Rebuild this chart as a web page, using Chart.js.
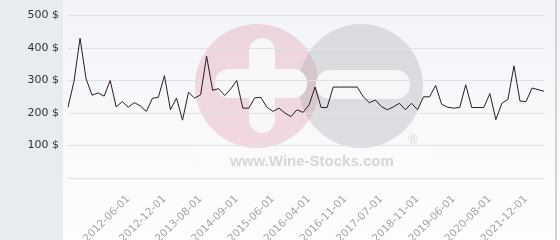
<!DOCTYPE html>
<html>
<head>
<meta charset="utf-8">
<script src="https://cdn.jsdelivr.net/npm/chart.js@4"></script>
<style>
  html, body { margin: 0; padding: 0; background: #fff; }
  #wrap { width: 560px; height: 240px; }
</style>
</head>
<body>
<div id="wrap"><canvas id="chart" width="560" height="240"></canvas></div>
<script>
// only every 6th date is printed on the axis in the reference, the rest are left blank
const dates = [
  "", "", "", "", "", "", "", "", "", "",
  "2012-06-01", "", "", "", "", "", "2012-12-01", "", "", "",
  "", "", "2013-08-01", "", "", "", "", "", "2014-09-01", "",
  "", "", "", "", "2015-06-01", "", "", "", "", "",
  "2016-04-01", "", "", "", "", "", "2016-11-01", "", "", "",
  "", "", "2017-07-01", "", "", "", "", "", "2018-11-01", "",
  "", "", "", "", "2019-06-01", "", "", "", "", "",
  "2020-08-01", "", "", "", "", "", "2021-12-01", "", "", ""
];

const prices = [
  218, 298, 430, 305, 255, 262, 252, 300, 219, 235,
  218, 232, 222, 205, 245, 249, 315, 210, 246, 178,
  264, 246, 256, 375, 270, 275, 254, 274, 300, 215,
  215, 247, 248, 218, 205, 215, 200, 189, 210, 202,
  225, 280, 217, 217, 280, 280, 280, 280, 280, 250,
  232, 240, 220, 210, 219, 230, 210, 230, 210, 250,
  250, 285, 227, 218, 215, 217, 287, 217, 217, 217,
  260, 180, 230, 242, 345, 237, 235, 277, 272, 267
];

const yTicks = [0, 100, 200, 300, 400, 500];

const COLORS = {
  panel: "#e8ecef",
  plotTop: "#f3f4f8",
  plotBottom: "#fdfdfe",
  grid: "#dfe1e6",
  line: "#2b1b24",
  yText: "#333333",
  xText: "#a4a4a4",
  border: "#d2d2d5"
};

// background panel, plot gradient and the watermark logo
const backdrop = {
  id: "backdrop",
  beforeDraw(chart) {
    const ctx = chart.ctx;
    const W = chart.width, H = chart.height;
    ctx.save();
    const g = ctx.createLinearGradient(0, 0, 0, H);
    g.addColorStop(0, COLORS.plotTop);
    g.addColorStop(1, COLORS.plotBottom);
    ctx.fillStyle = g;
    ctx.fillRect(0, 0, W, H);
    ctx.fillStyle = COLORS.panel;
    ctx.fillRect(0, 0, 63, H);
    ctx.strokeStyle = COLORS.border;
    ctx.lineWidth = 2;
    ctx.beginPath();
    ctx.moveTo(556, 0);
    ctx.lineTo(556, H);
    ctx.stroke();

    // logo
    ctx.fillStyle = "rgba(215, 120, 145, 0.25)";
    ctx.beginPath();
    ctx.arc(257, 86, 62, 0, Math.PI * 2);
    ctx.fill();
    ctx.fillStyle = "rgba(160, 160, 165, 0.3)";
    ctx.beginPath();
    ctx.arc(361, 86, 62, 0, Math.PI * 2);
    ctx.fill();
    ctx.fillStyle = "#f7f7f9";
    ctx.beginPath();
    ctx.roundRect(249, 38, 26, 95, 13);
    ctx.roundRect(215, 69, 92, 29, 14);
    ctx.roundRect(316, 70, 94, 29, 14);
    ctx.fill();
    ctx.fillStyle = "rgba(255, 255, 255, 0.2)";
    ctx.fillRect(196, 150, 230, 26);
    ctx.fillStyle = "#d6d6d8";
    ctx.font = "bold 15px 'Liberation Sans', Arial, sans-serif";
    ctx.textAlign = "center";
    ctx.textBaseline = "alphabetic";
    ctx.fillText("www.Wine-Stocks.com", 312, 166);
    ctx.font = "13px 'Liberation Sans', Arial, sans-serif";
    ctx.fillText("\u00AE", 413, 144);
    ctx.restore();
  }
};

new Chart(document.getElementById("chart"), {
  type: "line",
  data: {
    labels: dates,
    datasets: [{
      data: prices,
      borderColor: COLORS.line,
      borderWidth: 1,
      pointRadius: 0,
      tension: 0,
      fill: false
    }]
  },
  options: {
    responsive: false,
    animation: false,
    layout: { padding: { top: 11, right: 6, left: 0, bottom: 0 } },
    plugins: {
      legend: { display: false },
      tooltip: { enabled: false }
    },
    scales: {
      x: {
        offset: false,
        grid: { display: false },
        border: { display: false },
        afterFit: (s) => { s.height = 62; },
        ticks: {
          autoSkip: false,
          minRotation: 45,
          maxRotation: 45,
          padding: 7,
          color: COLORS.xText,
          font: { family: "'DejaVu Sans'", size: 10.5 }
        }
      },
      y: {
        min: 0,
        max: 500,
        afterFit: (s) => { s.width = 68; },
        afterBuildTicks: (s) => { s.ticks = yTicks.map((v) => ({ value: v })); },
        grid: { color: COLORS.grid, drawTicks: false },
        border: { display: false },
        ticks: {
          padding: 9,
          color: COLORS.yText,
          font: { family: "'DejaVu Sans'", size: 11 },
          callback: (v) => (v === 0 ? "" : v + " $")
        }
      }
    }
  },
  plugins: [backdrop]
});
</script>
</body>
</html>
